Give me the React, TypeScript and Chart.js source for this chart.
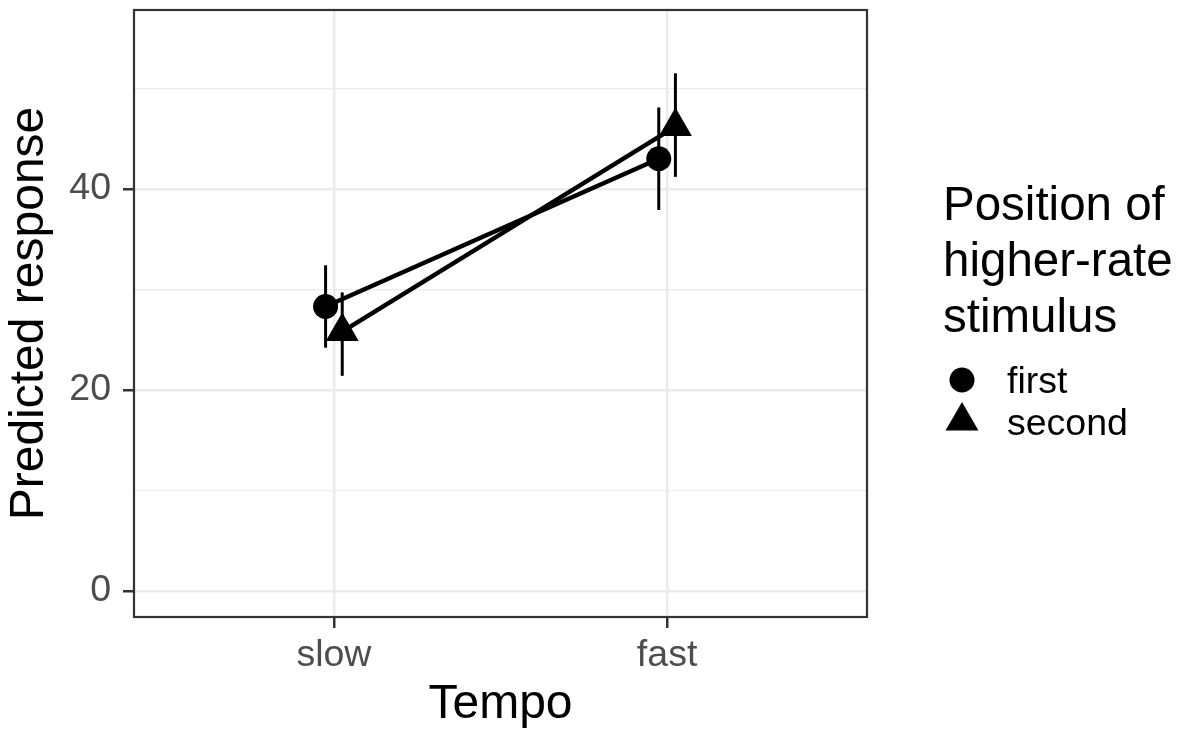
import React, { useEffect, useRef } from 'react';
import { Chart, registerables } from 'chart.js';

Chart.register(...registerables);

const categories = ['slow', 'fast'];
const groups = ['first', 'second'];
const firstMean = [28.3, 43.0];
const firstLow = [24.2, 37.9];
const firstHigh = [32.4, 48.1];
const secondMean = [25.8, 46.2];
const secondLow = [21.4, 41.2];
const secondHigh = [29.7, 51.5];
const dodge = [-0.025, 0.025];
const yMajorTicks = [0, 20, 40];
const yMinorTicks = [10, 30, 50];
const xTitle = 'Tempo';
const yTitle = 'Predicted response';
const legendTitle = ['Position of', 'higher-rate', 'stimulus'];

const FONT = "'Liberation Sans', Arial, sans-serif";
const means = [firstMean, secondMean];
const lows = [firstLow, secondLow];
const highs = [firstHigh, secondHigh];
const shapes = ['circle', 'triangle'];
const radii = [12.5, 19];

const errorBarPlugin = {
  id: 'errorBars',
  beforeDatasetsDraw(chart: any) {
    const { ctx, scales } = chart;
    const xs = scales.x;
    const ys = scales.y;
    ctx.save();
    ctx.strokeStyle = '#000';
    ctx.lineWidth = 3;
    groups.forEach((_, g) => {
      categories.forEach((__, i) => {
        const x = xs.getPixelForValue(i + 1 + dodge[g]);
        ctx.beginPath();
        ctx.moveTo(x, ys.getPixelForValue(lows[g][i]));
        ctx.lineTo(x, ys.getPixelForValue(highs[g][i]));
        ctx.stroke();
      });
    });
    ctx.restore();
  },
};

const frameLegendPlugin = {
  id: 'frameLegend',
  afterDraw(chart: any) {
    const { ctx, chartArea } = chart;
    ctx.save();
    ctx.strokeStyle = '#333333';
    ctx.lineWidth = 2.2;
    ctx.strokeRect(chartArea.left, chartArea.top, chartArea.right - chartArea.left, chartArea.bottom - chartArea.top);

    ctx.fillStyle = '#000';
    ctx.textAlign = 'left';
    ctx.textBaseline = 'alphabetic';
    ctx.font = `47.5px ${FONT}`;
    legendTitle.forEach((line, k) => {
      ctx.fillText(line, 943, 220 + k * 56);
    });
    ctx.font = `37.5px ${FONT}`;
    const keyX = 962;
    const keyY = [380, 421];
    const labelBase = [393, 435];
    groups.forEach((name, g) => {
      ctx.beginPath();
      if (shapes[g] === 'circle') {
        ctx.arc(keyX, keyY[g], radii[g], 0, Math.PI * 2);
      } else {
        const r = radii[g];
        ctx.moveTo(keyX, keyY[g] - r);
        ctx.lineTo(keyX + r * Math.sin((2 * Math.PI) / 3), keyY[g] - r * Math.cos((2 * Math.PI) / 3));
        ctx.lineTo(keyX + r * Math.sin((4 * Math.PI) / 3), keyY[g] - r * Math.cos((4 * Math.PI) / 3));
        ctx.closePath();
      }
      ctx.fill();
      ctx.fillText(name, 1007, labelBase[g]);
    });
    ctx.restore();
  },
};

export default function App() {
  const ref = useRef<HTMLCanvasElement>(null);

  useEffect(() => {
    if (!ref.current) return;
    Chart.defaults.font.family = FONT;
    const datasets = groups.map((name, g) => ({
      label: name,
      data: categories.map((_, i) => ({ x: i + 1 + dodge[g], y: means[g][i] })),
      borderColor: '#000',
      backgroundColor: '#000',
      borderWidth: 4.5,
      pointStyle: shapes[g],
      pointRadius: radii[g],
      pointBackgroundColor: '#000',
      pointBorderColor: '#000',
      pointBorderWidth: 0,
      tension: 0,
    }));

    const chart = new Chart(ref.current, {
      type: 'line',
      data: { datasets } as any,
      options: {
        animation: false,
        responsive: false,
        devicePixelRatio: 1,
        layout: { autoPadding: false, padding: { left: 0, top: 10, right: 313, bottom: 0 } },
        plugins: { legend: { display: false }, tooltip: { enabled: false } },
        scales: {
          x: {
            type: 'linear',
            min: 0.4,
            max: 2.6,
            afterBuildTicks: (scale: any) => {
              scale.ticks = categories.map((_, i) => ({ value: i + 1 }));
            },
            afterFit: (scale: any) => {
              scale.height = 119;
              scale.paddingLeft = 0;
              scale.paddingRight = 0;
            },
            ticks: {
              callback: (v: any) => categories[Math.round(Number(v)) - 1] ?? '',
              color: '#4d4d4d',
              font: { size: 37.5, family: FONT },
              padding: 5,
              maxRotation: 0,
              autoSkip: false,
            },
            grid: {
              color: '#ebebeb',
              lineWidth: 2.5,
              drawTicks: true,
              tickLength: 11,
              tickColor: '#333333',
              tickWidth: 2.5,
            },
            border: { display: false },
            title: {
              display: true,
              text: xTitle,
              color: '#000',
              font: { size: 48, family: FONT },
              padding: { top: 0, bottom: 2 },
            },
          },
          y: {
            type: 'linear',
            min: -2.6,
            max: 57.8,
            afterBuildTicks: (scale: any) => {
              scale.ticks = [...yMajorTicks, ...yMinorTicks]
                .sort((a, b) => a - b)
                .map((v) => ({ value: v }));
            },
            afterFit: (scale: any) => {
              scale.width = 134;
              scale.paddingTop = 0;
              scale.paddingBottom = 0;
            },
            ticks: {
              callback: (v: any) => (yMajorTicks.includes(Number(v)) ? String(v) : ''),
              color: '#4d4d4d',
              font: { size: 37.5, family: FONT },
              padding: 12,
              autoSkip: false,
            },
            grid: {
              color: '#ebebeb',
              lineWidth: (c: any) => (yMajorTicks.includes(c.tick?.value) ? 2.5 : 1.3),
              drawTicks: true,
              tickLength: 11,
              tickColor: (c: any) => (yMajorTicks.includes(c.tick?.value) ? '#333333' : 'rgba(0,0,0,0)'),
              tickWidth: 2.5,
            },
            border: { display: false },
            title: {
              display: true,
              text: yTitle,
              color: '#000',
              font: { size: 48, family: FONT },
              padding: { top: 1, bottom: 0 },
            },
          },
        },
      } as any,
      plugins: [errorBarPlugin, frameLegendPlugin],
    });
    return () => chart.destroy();
  }, []);

  return (
    <div style={{ position: 'fixed', left: 0, top: 0, width: 1180, height: 736, background: '#fff' }}>
      <canvas ref={ref} width={1180} height={736} style={{ width: 1180, height: 736, display: 'block' }} />
    </div>
  );
}
